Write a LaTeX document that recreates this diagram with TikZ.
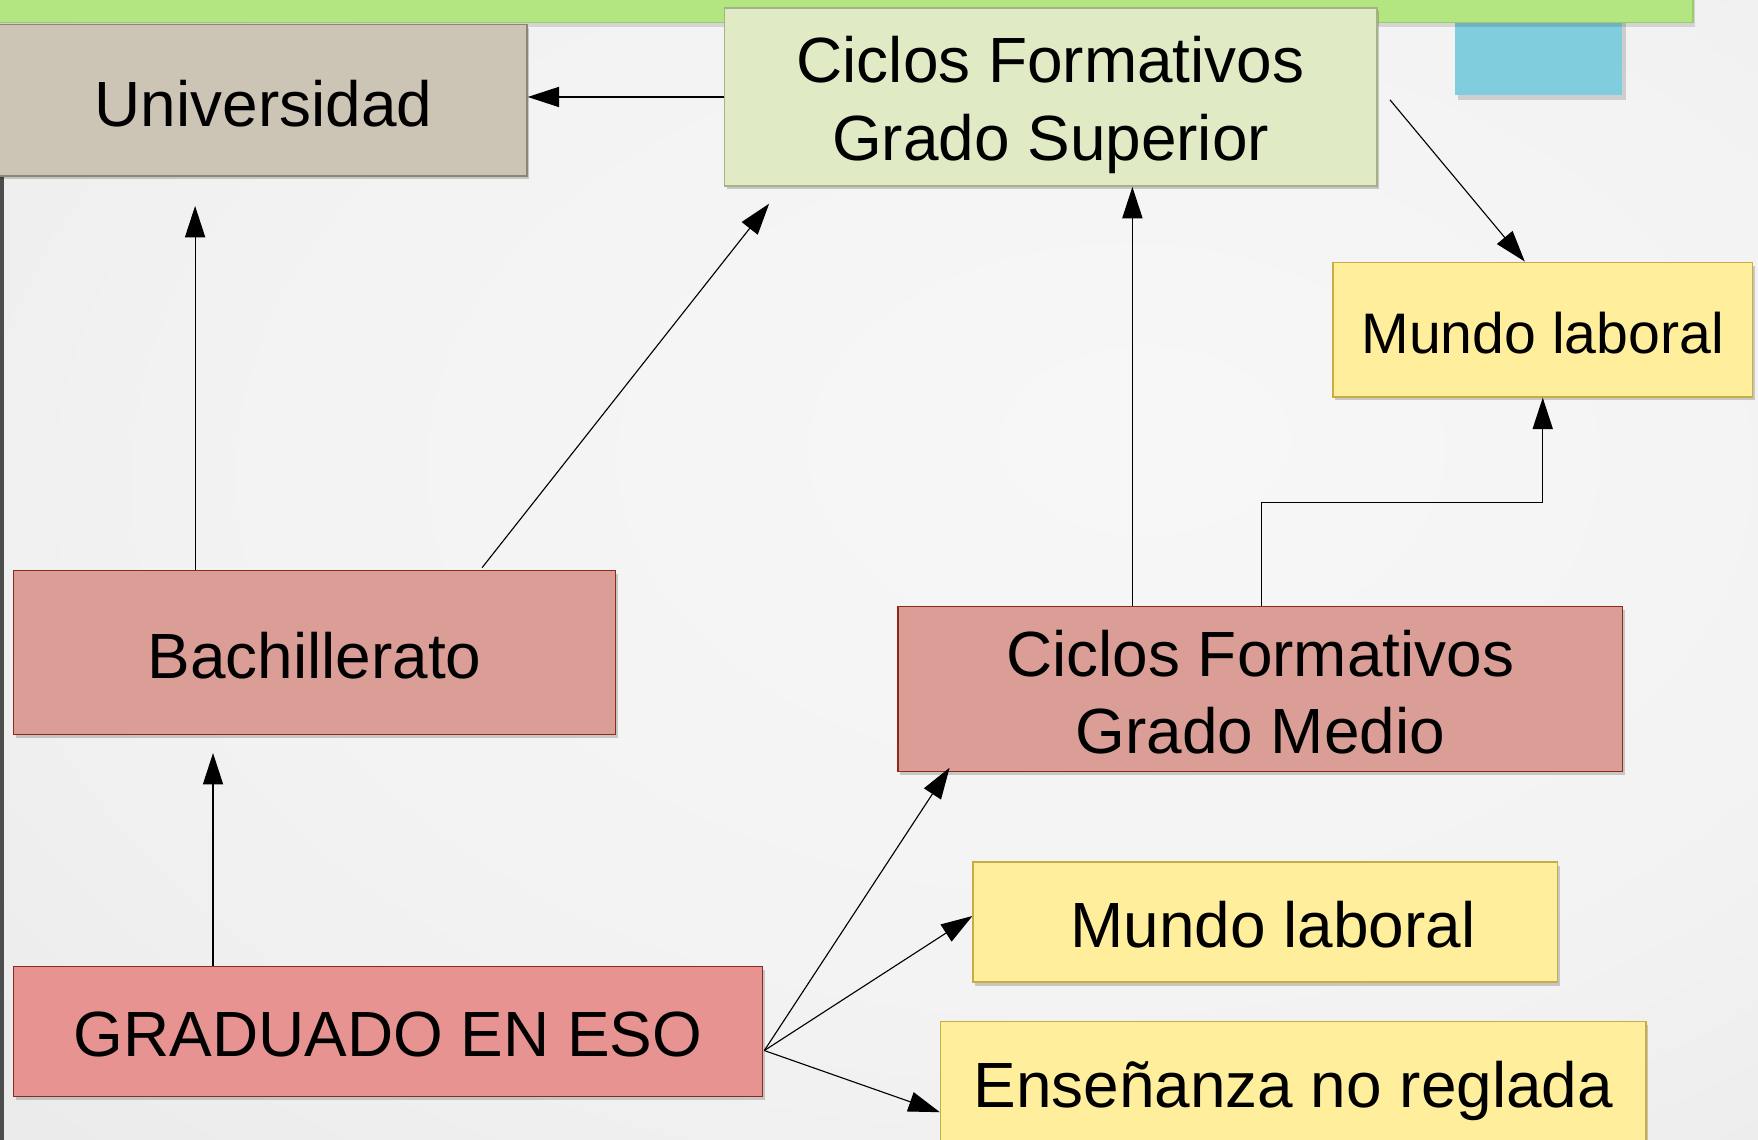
\documentclass[tikz,border=0pt]{standalone}
\usepackage{fontspec}
\setmainfont{Liberation Sans}
\usetikzlibrary{arrows.meta,shadows}
\definecolor{univfill}{HTML}{CCC5B5}
\definecolor{univline}{HTML}{8C8677}
\definecolor{supfill}{HTML}{E0EAC5}
\definecolor{supline}{HTML}{A3B288}
\definecolor{yelfill}{HTML}{FFEE9C}
\definecolor{yelline}{HTML}{C6AE42}
\definecolor{redfill}{HTML}{DA9E97}
\definecolor{gradfill}{HTML}{E69391}
\definecolor{redline}{HTML}{8B2B1C}
\definecolor{barfill}{HTML}{B3E580}
\definecolor{barline}{HTML}{9CCB6C}
\definecolor{bluefill}{HTML}{80CEDD}
\definecolor{leftline}{HTML}{4D4D4D}
\newcommand\lowerby[2]{\raisebox{-#1}[\height][\depth]{#2}}
\pgfdeclareradialshading{bgshade}{\pgfpoint{8bp}{6bp}}{color(0bp)=(white!97!black); color(25bp)=(white!95!black); color(50bp)=(white!90!black); color(75bp)=(white!84!black)}
\tikzset{
  box/.style={draw, line width=1.4pt, align=center, inner sep=0pt,
    font=\fontsize{57}{69}\selectfont,
    drop shadow={shadow xshift=2pt, shadow yshift=-3pt, opacity=0.18, fill=black}},
  univbox/.style={box, fill=univfill, draw=univline},
  supbox/.style={box, fill=supfill, draw=supline},
  yelbox/.style={box, fill=yelfill, draw=yelline},
  redbox/.style={box, fill=redfill, draw=redline},
  gradbox/.style={box, fill=gradfill, draw=redline},
  arr/.style={-{Triangle[length=28pt,width=18pt]}, line width=1pt, black}
}
\begin{document}
\begin{tikzpicture}[x=1pt,y=-1pt]
\useasboundingbox (0,0) rectangle (1568,1016);
\clip (0,0) rectangle (1568,1016);
% background
\shade[shading=bgshade] (0,0) rectangle (1568,1016);
% decorations
\fill[black, opacity=0.15] (1300,20) rectangle (1450,89);
\fill[bluefill] (1298,15) rectangle (1447,85);
\fill[black, opacity=0.12] (-5,0) rectangle (1512,24);
\filldraw[fill=barfill, draw=barline, line width=1pt] (-5,-5) rectangle (1510,20);
\fill[leftline] (-2,157) rectangle (4,1020);
% nodes
\node[univbox, minimum width=480pt, minimum height=135pt] (univ) at (230,89.5) {\hspace*{10pt}\lowerby{3pt}{Universidad}};
\node[supbox, minimum width=582pt, minimum height=159pt] (cfgs) at (937,86.5) {\lowerby{7pt}{Ciclos Formativos}\\\lowerby{7pt}{Grado Superior}};
\node[yelbox, minimum width=374pt, minimum height=120pt, font=\fontsize{51}{60}\selectfont] (mlt) at (1376,294) {\lowerby{3pt}{Mundo laboral}};
\node[redbox, minimum width=537pt, minimum height=146pt] (bach) at (280.5,582) {\lowerby{3pt}{Bachillerato}};
\node[redbox, minimum width=646pt, minimum height=147pt] (cfgm) at (1124,614.5) {\lowerby{3pt}{Ciclos Formativos}\\\lowerby{3pt}{Grado Medio}};
\node[yelbox, minimum width=521pt, minimum height=107pt] (mlm) at (1128.5,822.5) {\hspace*{14pt}\lowerby{2pt}{Mundo laboral}};
\node[yelbox, minimum width=629pt, minimum height=118pt] (ens) at (1153.5,970) {\lowerby{3pt}{Enseñanza no reglada}};
\node[gradbox, minimum width=668pt, minimum height=116pt] (grad) at (346,920) {\lowerby{3pt}{GRADUADO EN ESO}};
% connectors
\draw[arr] (cfgs.west) -- (cfgs.west -| univ.east);
\draw[arr, shorten >=26pt] ([xshift=-106.5pt]bach.north) -- ([xshift=-106.5pt]bach.north |- univ.south);
\draw[arr] ([xshift=149.5pt,yshift=2pt]bach.north) -- ([xshift=-251pt,yshift=-15pt]cfgs.south);
\draw[arr] ([xshift=-114pt]cfgm.north) -- ([xshift=-114pt]cfgm.north |- cfgs.south);
\draw[arr] ([xshift=11pt,yshift=-2.5pt]cfgs.east) -- ([xshift=-16pt]mlt.north);
\draw[arr] ([xshift=1pt]cfgm.north) -- ++(0pt,92pt) -| (mlt.south);
\draw[arr, shorten >=16pt] ([xshift=-156pt]grad.north) -- ([xshift=-156pt]grad.north |- bach.south);
\coordinate (fan) at ([xshift=1pt,yshift=-17pt]grad.east);
\draw[arr] (fan) -- ([xshift=-277pt,yshift=4pt]cfgm.south);
\draw[arr] (fan) -- ([yshift=5.5pt]mlm.west);
\draw[arr] (fan) -- ([yshift=-22pt]ens.west);
\end{tikzpicture}
\end{document}
